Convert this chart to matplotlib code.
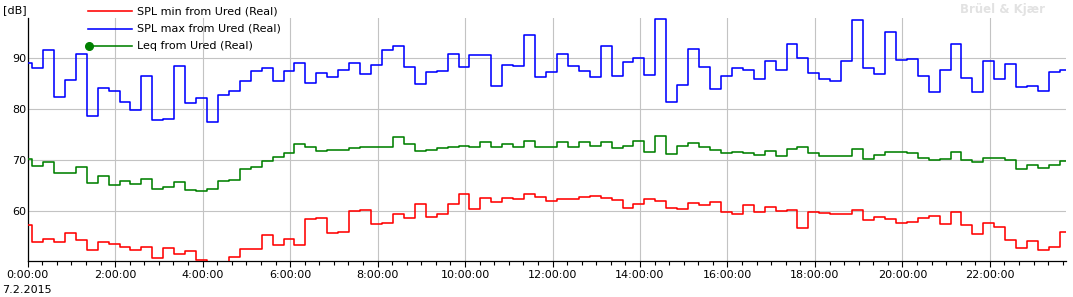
import numpy as np
import matplotlib
matplotlib.use("Agg")
import matplotlib.pyplot as plt
from matplotlib.lines import Line2D

# ---- data (15-minute intervals, first interval starts at 23:51 of previous day) ----
spl_max = [89.1, 88.0, 91.6, 82.5, 85.7, 90.8, 78.6, 84.1, 83.6, 81.4,
           79.9, 86.6, 77.9, 78.1, 88.4, 81.2, 82.2, 77.6, 82.8, 83.6,
           85.6, 87.6, 88.0, 85.6, 87.6, 89.1, 85.2, 87.1, 86.3, 87.8,
           89.1, 86.9, 88.6, 91.6, 92.4, 88.2, 84.9, 87.3, 87.5, 90.8,
           88.2, 90.6, 90.6, 84.6, 88.6, 88.4, 94.6, 86.3, 87.3, 90.8,
           88.4, 87.5, 86.3, 92.5, 86.5, 89.2, 90.0, 86.7, 97.8, 81.4,
           84.7, 91.8, 88.2, 83.9, 86.5, 88.0, 87.8, 86.0, 89.4, 87.8,
           92.9, 90.0, 87.1, 85.9, 85.6, 89.4, 97.6, 88.0, 86.9, 95.1,
           89.6, 89.8, 86.5, 83.3, 87.8, 92.9, 86.1, 83.3, 89.4, 85.9,
           88.8, 84.3, 84.5, 83.5, 87.3, 87.8]

leq = [70.2, 68.9, 69.6, 67.5, 67.5, 68.6, 65.5, 66.9, 65.1, 65.9,
       65.4, 66.4, 64.3, 64.7, 65.7, 64.2, 63.9, 64.3, 65.9, 66.1,
       68.2, 68.7, 69.8, 70.6, 71.4, 73.1, 72.6, 71.8, 72.1, 72.0,
       72.4, 72.6, 72.7, 72.6, 74.6, 73.1, 71.8, 72.0, 72.5, 72.7,
       72.9, 72.6, 73.5, 72.7, 73.1, 72.6, 73.7, 72.6, 72.6, 73.5,
       72.7, 73.5, 72.8, 73.5, 72.4, 72.9, 73.7, 71.6, 74.7, 71.2,
       72.8, 73.3, 72.7, 72.0, 71.4, 71.7, 71.5, 71.0, 71.8, 70.8,
       72.2, 72.6, 71.4, 70.9, 70.9, 70.9, 72.2, 70.2, 71.0, 71.6,
       71.6, 71.4, 70.4, 70.0, 70.3, 71.6, 70.0, 69.6, 70.5, 70.5,
       70.0, 68.2, 69.1, 68.4, 69.1, 69.8]

spl_min = [57.3, 53.9, 54.5, 53.9, 55.7, 54.3, 52.4, 53.9, 53.5, 53.1,
           52.4, 53.1, 50.8, 52.9, 51.6, 52.2, 50.4, 49.8, 49.8, 51.0,
           52.7, 52.7, 55.3, 53.3, 54.5, 53.3, 58.4, 58.6, 55.7, 55.9,
           60.0, 60.2, 57.6, 57.8, 59.4, 58.6, 61.4, 58.8, 59.4, 61.4,
           63.3, 60.4, 62.7, 61.8, 62.7, 62.5, 63.3, 62.9, 62.0, 62.5,
           62.5, 62.9, 63.1, 62.7, 62.2, 60.6, 61.4, 62.4, 62.0, 60.6,
           60.4, 61.6, 61.2, 61.8, 59.8, 59.4, 61.2, 59.8, 60.8, 60.0,
           60.2, 56.7, 59.8, 59.6, 59.4, 59.4, 60.2, 58.2, 58.8, 58.4,
           57.8, 58.0, 58.6, 59.0, 57.5, 59.8, 57.3, 55.5, 57.8, 56.9,
           54.4, 52.9, 54.2, 52.4, 53.1, 55.9]

legend_labels = ["SPL min from Ured (Real)", "SPL max from Ured (Real)", "Leq from Ured (Real)"]
hour_ticks = list(range(0, 24, 2))
tick_labels = [f"{h}:00:00" for h in hour_ticks]
date_label = "7.2.2015"

# interval edges in hours
interval_start = -0.15
interval_len = 0.25
n = len(spl_max)
edges = interval_start + interval_len * np.arange(n + 1)

W, H = 1073, 297
fig = plt.figure(figsize=(W / 100, H / 100), dpi=100)
fig.patch.set_facecolor("white")

left_px, right_px, top_px, bot_px = 27.7, 1066, 18, 261
ax = fig.add_axes([left_px / W, 1 - bot_px / H, (right_px - left_px) / W, (bot_px - top_px) / H])

red, blue, green = "#ff0000", "#0000ff", "#008000"
for vals, col in [(spl_min, red), (spl_max, blue), (leq, green)]:
    v = np.asarray(vals, dtype=float)
    ax.step(edges, np.append(v, v[-1]), where="post", color=col, lw=1.15, zorder=3)

ax.set_xlim(0, 23.74)
ax.set_ylim(50.26, 97.9)

for s in ["top", "right"]:
    ax.spines[s].set_visible(False)
for s in ["left", "bottom"]:
    ax.spines[s].set_color("black")
    ax.spines[s].set_linewidth(0.9)

ax.set_yticks([60, 70, 80, 90])
ax.set_yticklabels(["60", "70", "80", "90"])
ax.tick_params(axis="y", length=0, pad=1.2, labelsize=8, labelcolor="black")

ax.set_xticks(hour_ticks)
ax.set_xticklabels(tick_labels)
ax.set_xticks(np.arange(0, 23.74, 1 / 3), minor=True)
ax.tick_params(axis="x", which="major", length=4, width=0.8, direction="out", pad=2.5,
               labelsize=8, labelcolor="black", color="black")
ax.tick_params(axis="x", which="minor", length=3, width=0.8, direction="out", color="black")

ax.set_axisbelow(True)
ax.grid(True, which="major", color="#c3c3c3", lw=0.8)

# texts
fig.text(3 / W, 1 - 10 / H, "[dB]", fontsize=8, va="center", ha="left", color="black")
fig.text(2 / W, 1 - 290 / H, date_label, fontsize=8, va="center", ha="left", color="black")
fig.text(960 / W, 1 - 10 / H, "Brüel & Kjær", fontsize=8.5, fontweight="bold",
         va="center", ha="left", color="#e2e2e2")

# legend (manual)
leg_y = [11, 28.7, 46]
leg_cols = [red, blue, green]
for yy, col, lab in zip(leg_y, leg_cols, legend_labels):
    fig.add_artist(Line2D([88 / W, 132 / W], [1 - yy / H, 1 - yy / H], color=col, lw=1.15,
                          transform=fig.transFigure))
    fig.text(137 / W, 1 - yy / H, lab, fontsize=8, va="center", ha="left", color="black")
fig.add_artist(Line2D([89 / W], [1 - 46 / H], color=green, marker="o", markersize=5.5,
                      transform=fig.transFigure))

fig.savefig("out.png", dpi=100, facecolor="white")
